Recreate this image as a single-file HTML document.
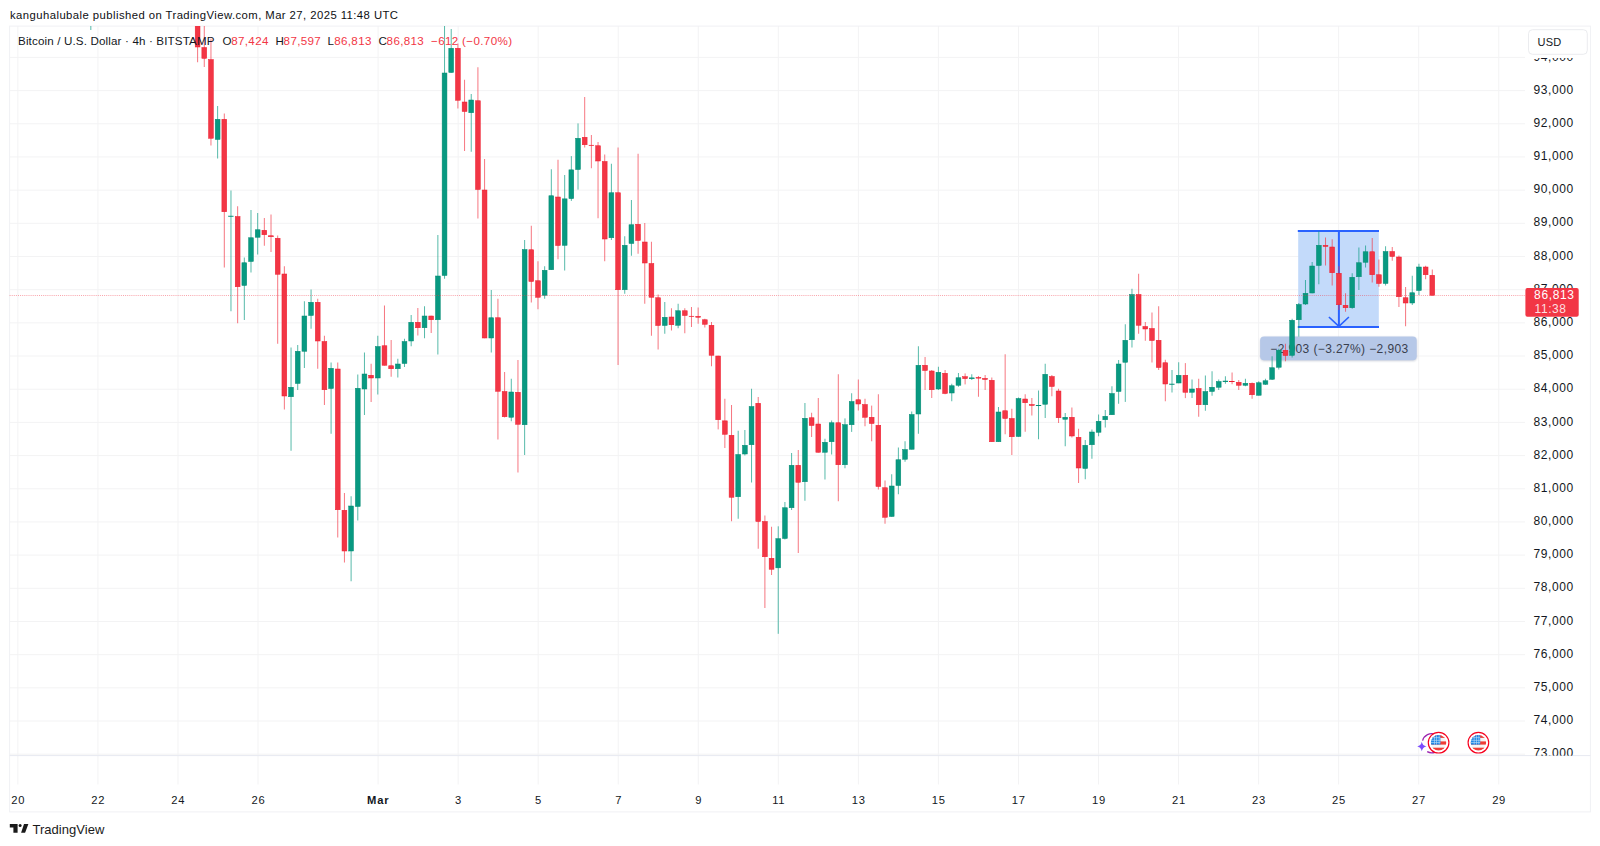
<!DOCTYPE html>
<html lang="en"><head><meta charset="utf-8"><title>BTCUSD 4h - TradingView</title>
<style>html,body{margin:0;padding:0;background:#fff}body{width:1600px;height:846px;overflow:hidden;position:relative;font-family:"Liberation Sans", Arial, sans-serif}svg{position:absolute;left:0;top:0;display:block}text{font-family:"Liberation Sans", Arial, sans-serif}</style>
</head><body>
<svg width="1600" height="846" viewBox="0 0 1600 846">
<rect x="0" y="0" width="1600" height="846" fill="#ffffff"/>
<g stroke="#F3F3F4" stroke-width="1" fill="none">
<line x1="9.6" y1="57.42" x2="1525.0" y2="57.42"/>
<line x1="9.6" y1="90.60" x2="1525.0" y2="90.60"/>
<line x1="9.6" y1="123.78" x2="1525.0" y2="123.78"/>
<line x1="9.6" y1="156.96" x2="1525.0" y2="156.96"/>
<line x1="9.6" y1="190.14" x2="1525.0" y2="190.14"/>
<line x1="9.6" y1="223.32" x2="1525.0" y2="223.32"/>
<line x1="9.6" y1="256.50" x2="1525.0" y2="256.50"/>
<line x1="9.6" y1="289.68" x2="1525.0" y2="289.68"/>
<line x1="9.6" y1="322.86" x2="1525.0" y2="322.86"/>
<line x1="9.6" y1="356.04" x2="1525.0" y2="356.04"/>
<line x1="9.6" y1="389.22" x2="1525.0" y2="389.22"/>
<line x1="9.6" y1="422.40" x2="1525.0" y2="422.40"/>
<line x1="9.6" y1="455.58" x2="1525.0" y2="455.58"/>
<line x1="9.6" y1="488.76" x2="1525.0" y2="488.76"/>
<line x1="9.6" y1="521.94" x2="1525.0" y2="521.94"/>
<line x1="9.6" y1="555.12" x2="1525.0" y2="555.12"/>
<line x1="9.6" y1="588.30" x2="1525.0" y2="588.30"/>
<line x1="9.6" y1="621.48" x2="1525.0" y2="621.48"/>
<line x1="9.6" y1="654.66" x2="1525.0" y2="654.66"/>
<line x1="9.6" y1="687.84" x2="1525.0" y2="687.84"/>
<line x1="9.6" y1="721.02" x2="1525.0" y2="721.02"/>
<line x1="9.6" y1="754.20" x2="1525.0" y2="754.20"/>
<line x1="17.89" y1="26.1" x2="17.89" y2="784.5"/>
<line x1="97.94" y1="26.1" x2="97.94" y2="784.5"/>
<line x1="177.99" y1="26.1" x2="177.99" y2="784.5"/>
<line x1="258.03" y1="26.1" x2="258.03" y2="784.5"/>
<line x1="378.10" y1="26.1" x2="378.10" y2="784.5"/>
<line x1="458.15" y1="26.1" x2="458.15" y2="784.5"/>
<line x1="538.19" y1="26.1" x2="538.19" y2="784.5"/>
<line x1="618.24" y1="26.1" x2="618.24" y2="784.5"/>
<line x1="698.28" y1="26.1" x2="698.28" y2="784.5"/>
<line x1="778.33" y1="26.1" x2="778.33" y2="784.5"/>
<line x1="858.38" y1="26.1" x2="858.38" y2="784.5"/>
<line x1="938.42" y1="26.1" x2="938.42" y2="784.5"/>
<line x1="1018.47" y1="26.1" x2="1018.47" y2="784.5"/>
<line x1="1098.51" y1="26.1" x2="1098.51" y2="784.5"/>
<line x1="1178.56" y1="26.1" x2="1178.56" y2="784.5"/>
<line x1="1258.61" y1="26.1" x2="1258.61" y2="784.5"/>
<line x1="1338.65" y1="26.1" x2="1338.65" y2="784.5"/>
<line x1="1418.70" y1="26.1" x2="1418.70" y2="784.5"/>
<line x1="1498.74" y1="26.1" x2="1498.74" y2="784.5"/>
</g>
<g stroke="#F0F1F4" stroke-width="1" fill="none">
<rect x="9.6" y="26.1" width="1580.8" height="785.8"/>
<line x1="9.6" y1="755.6" x2="1590.4" y2="755.6" stroke="#E7E9F1"/>
</g>
<g id="measure">
<defs><filter id="sh" x="-10%" y="-30%" width="120%" height="160%"><feGaussianBlur stdDeviation="1.1"/></filter></defs>
<rect x="1298.2" y="231" width="80.6" height="96" fill="#C3DAFA"/>
<g stroke="#2962FF" stroke-width="2" fill="none">
<line x1="1297.8" y1="231" x2="1379" y2="231"/>
<line x1="1297.8" y1="327" x2="1379" y2="327"/>
<line x1="1338.9" y1="231" x2="1338.9" y2="326"/>
<polyline points="1328.9,317 1338.9,326.3 1348.9,317" stroke-width="1.6"/>
</g>
<rect x="1260.4" y="337.4" width="156.4" height="23.6" rx="4" fill="#8A93A8" fill-opacity="0.45" filter="url(#sh)"/>
<rect x="1260.1" y="336.4" width="156.6" height="23.8" rx="4" fill="#B6C8E8"/>
<text x="1270.3" y="352.7" font-size="12" fill="#3A3F4E" textLength="137.9" lengthAdjust="spacing">−2,903 (−3.27%) −2,903</text>
</g>
<g id="candles" clip-path="url(#paneclip)">
<defs><clipPath id="paneclip"><rect x="9.6" y="26.1" width="1515.4" height="729.5"/></clipPath></defs>
<g fill="#F23645" fill-opacity="0.68">
<rect x="197.10" y="20.00" width="1" height="42.25"/>
<rect x="203.77" y="20.00" width="1" height="47.00"/>
<rect x="210.45" y="38.70" width="1" height="106.80"/>
<rect x="223.80" y="113.50" width="1" height="154.00"/>
<rect x="237.14" y="206.25" width="1" height="117.00"/>
<rect x="263.84" y="218.00" width="1" height="27.75"/>
<rect x="270.51" y="214.50" width="1" height="37.50"/>
<rect x="277.19" y="235.50" width="1" height="108.25"/>
<rect x="283.86" y="266.25" width="1" height="143.25"/>
<rect x="317.23" y="298.75" width="1" height="70.00"/>
<rect x="323.91" y="335.75" width="1" height="69.25"/>
<rect x="337.25" y="362.50" width="1" height="175.00"/>
<rect x="343.93" y="493.00" width="1" height="69.50"/>
<rect x="370.62" y="363.75" width="1" height="38.25"/>
<rect x="383.97" y="305.50" width="1" height="60.00"/>
<rect x="390.65" y="340.00" width="1" height="36.75"/>
<rect x="417.34" y="308.00" width="1" height="27.50"/>
<rect x="430.69" y="315.75" width="1" height="17.25"/>
<rect x="457.39" y="43.50" width="1" height="65.00"/>
<rect x="464.06" y="79.75" width="1" height="71.25"/>
<rect x="477.41" y="67.25" width="1" height="151.25"/>
<rect x="484.08" y="159.00" width="1" height="179.25"/>
<rect x="497.43" y="298.75" width="1" height="140.75"/>
<rect x="504.10" y="372.00" width="1" height="45.50"/>
<rect x="517.45" y="360.00" width="1" height="112.50"/>
<rect x="530.80" y="225.75" width="1" height="76.75"/>
<rect x="537.47" y="261.25" width="1" height="48.00"/>
<rect x="557.50" y="159.75" width="1" height="99.50"/>
<rect x="584.19" y="97.00" width="1" height="50.50"/>
<rect x="590.87" y="135.00" width="1" height="33.25"/>
<rect x="597.54" y="142.00" width="1" height="76.25"/>
<rect x="604.21" y="154.50" width="1" height="106.75"/>
<rect x="617.56" y="147.50" width="1" height="217.50"/>
<rect x="637.58" y="153.75" width="1" height="100.00"/>
<rect x="644.26" y="223.00" width="1" height="80.75"/>
<rect x="650.93" y="241.75" width="1" height="94.00"/>
<rect x="657.61" y="294.50" width="1" height="55.00"/>
<rect x="670.95" y="308.25" width="1" height="22.25"/>
<rect x="684.30" y="308.25" width="1" height="25.00"/>
<rect x="690.98" y="307.00" width="1" height="20.00"/>
<rect x="697.65" y="307.50" width="1" height="16.25"/>
<rect x="704.32" y="318.75" width="1" height="8.75"/>
<rect x="711.00" y="322.00" width="1" height="44.25"/>
<rect x="717.67" y="355.75" width="1" height="73.65"/>
<rect x="724.35" y="398.75" width="1" height="49.25"/>
<rect x="731.02" y="405.00" width="1" height="116.25"/>
<rect x="757.72" y="397.00" width="1" height="151.75"/>
<rect x="764.39" y="515.50" width="1" height="92.50"/>
<rect x="771.06" y="526.75" width="1" height="48.25"/>
<rect x="797.76" y="450.00" width="1" height="103.00"/>
<rect x="811.11" y="412.75" width="1" height="24.25"/>
<rect x="817.78" y="398.00" width="1" height="54.50"/>
<rect x="837.80" y="374.25" width="1" height="127.00"/>
<rect x="857.83" y="379.50" width="1" height="31.00"/>
<rect x="864.50" y="398.75" width="1" height="27.50"/>
<rect x="871.17" y="405.60" width="1" height="35.65"/>
<rect x="877.85" y="394.25" width="1" height="95.25"/>
<rect x="884.52" y="480.50" width="1" height="43.25"/>
<rect x="924.57" y="357.00" width="1" height="33.00"/>
<rect x="931.24" y="370.00" width="1" height="28.00"/>
<rect x="944.59" y="370.00" width="1" height="24.25"/>
<rect x="964.61" y="373.40" width="1" height="11.00"/>
<rect x="977.96" y="376.00" width="1" height="20.75"/>
<rect x="984.63" y="375.00" width="1" height="15.00"/>
<rect x="991.31" y="377.50" width="1" height="64.50"/>
<rect x="1004.65" y="354.25" width="1" height="80.00"/>
<rect x="1011.33" y="408.75" width="1" height="46.25"/>
<rect x="1024.68" y="394.25" width="1" height="37.50"/>
<rect x="1031.35" y="398.00" width="1" height="17.50"/>
<rect x="1051.37" y="375.00" width="1" height="21.25"/>
<rect x="1058.05" y="388.75" width="1" height="34.25"/>
<rect x="1071.39" y="407.50" width="1" height="30.00"/>
<rect x="1078.07" y="428.75" width="1" height="54.25"/>
<rect x="1138.13" y="273.75" width="1" height="60.00"/>
<rect x="1144.81" y="322.00" width="1" height="18.75"/>
<rect x="1151.48" y="312.50" width="1" height="50.00"/>
<rect x="1158.16" y="306.25" width="1" height="63.75"/>
<rect x="1164.83" y="359.75" width="1" height="41.50"/>
<rect x="1184.85" y="363.10" width="1" height="35.00"/>
<rect x="1198.20" y="378.75" width="1" height="38.00"/>
<rect x="1231.57" y="372.50" width="1" height="11.75"/>
<rect x="1238.24" y="380.00" width="1" height="10.00"/>
<rect x="1251.59" y="382.50" width="1" height="16.25"/>
<rect x="1284.96" y="343.75" width="1" height="17.50"/>
<rect x="1325.01" y="237.50" width="1" height="28.00"/>
<rect x="1331.68" y="239.25" width="1" height="46.25"/>
<rect x="1338.35" y="266.25" width="1" height="43.75"/>
<rect x="1345.03" y="293.25" width="1" height="18.50"/>
<rect x="1371.72" y="238.00" width="1" height="44.50"/>
<rect x="1378.40" y="259.50" width="1" height="27.25"/>
<rect x="1391.75" y="247.00" width="1" height="13.75"/>
<rect x="1398.42" y="255.50" width="1" height="51.50"/>
<rect x="1405.09" y="287.00" width="1" height="39.25"/>
<rect x="1425.12" y="265.75" width="1" height="13.50"/>
<rect x="1431.79" y="269.50" width="1" height="26.00"/>
</g>
<g fill="#089981" fill-opacity="0.68">
<rect x="90.32" y="20.00" width="1" height="10.00"/>
<rect x="217.12" y="106.00" width="1" height="52.50"/>
<rect x="230.47" y="190.50" width="1" height="120.75"/>
<rect x="243.82" y="257.50" width="1" height="62.50"/>
<rect x="250.49" y="210.00" width="1" height="62.50"/>
<rect x="257.17" y="213.00" width="1" height="41.50"/>
<rect x="290.54" y="347.50" width="1" height="103.25"/>
<rect x="297.21" y="345.00" width="1" height="45.00"/>
<rect x="303.88" y="301.25" width="1" height="66.75"/>
<rect x="310.56" y="289.50" width="1" height="39.25"/>
<rect x="330.58" y="362.50" width="1" height="71.25"/>
<rect x="350.60" y="496.25" width="1" height="85.00"/>
<rect x="357.28" y="374.50" width="1" height="146.00"/>
<rect x="363.95" y="352.50" width="1" height="62.50"/>
<rect x="377.30" y="335.75" width="1" height="58.75"/>
<rect x="397.32" y="358.75" width="1" height="18.75"/>
<rect x="403.99" y="338.75" width="1" height="28.25"/>
<rect x="410.67" y="315.00" width="1" height="31.25"/>
<rect x="424.02" y="306.25" width="1" height="32.00"/>
<rect x="437.36" y="235.00" width="1" height="119.50"/>
<rect x="444.04" y="20.00" width="1" height="258.75"/>
<rect x="450.71" y="29.00" width="1" height="43.75"/>
<rect x="470.73" y="94.00" width="1" height="57.75"/>
<rect x="490.76" y="290.00" width="1" height="62.50"/>
<rect x="510.78" y="378.75" width="1" height="42.50"/>
<rect x="524.13" y="240.00" width="1" height="215.00"/>
<rect x="544.15" y="266.25" width="1" height="32.50"/>
<rect x="550.82" y="169.25" width="1" height="100.75"/>
<rect x="564.17" y="175.00" width="1" height="95.50"/>
<rect x="570.84" y="156.10" width="1" height="44.80"/>
<rect x="577.52" y="123.40" width="1" height="66.20"/>
<rect x="610.89" y="163.75" width="1" height="76.25"/>
<rect x="624.24" y="236.25" width="1" height="57.50"/>
<rect x="630.91" y="200.00" width="1" height="55.75"/>
<rect x="664.28" y="302.00" width="1" height="31.75"/>
<rect x="677.63" y="303.75" width="1" height="24.50"/>
<rect x="737.69" y="430.75" width="1" height="88.00"/>
<rect x="744.37" y="430.00" width="1" height="25.50"/>
<rect x="751.04" y="388.75" width="1" height="93.75"/>
<rect x="777.74" y="526.30" width="1" height="107.50"/>
<rect x="784.41" y="502.00" width="1" height="37.50"/>
<rect x="791.09" y="453.00" width="1" height="57.00"/>
<rect x="804.43" y="403.00" width="1" height="97.75"/>
<rect x="824.46" y="438.75" width="1" height="40.75"/>
<rect x="831.13" y="420.50" width="1" height="34.00"/>
<rect x="844.48" y="418.40" width="1" height="49.85"/>
<rect x="851.15" y="393.25" width="1" height="38.65"/>
<rect x="891.20" y="474.25" width="1" height="42.50"/>
<rect x="897.87" y="447.50" width="1" height="46.75"/>
<rect x="904.54" y="441.25" width="1" height="20.50"/>
<rect x="911.22" y="411.50" width="1" height="38.00"/>
<rect x="917.89" y="346.25" width="1" height="87.50"/>
<rect x="937.91" y="366.75" width="1" height="23.25"/>
<rect x="951.26" y="383.75" width="1" height="17.50"/>
<rect x="957.94" y="373.00" width="1" height="13.75"/>
<rect x="971.28" y="374.25" width="1" height="5.75"/>
<rect x="997.98" y="407.00" width="1" height="35.00"/>
<rect x="1018.00" y="397.50" width="1" height="39.25"/>
<rect x="1038.02" y="390.50" width="1" height="48.75"/>
<rect x="1044.70" y="363.75" width="1" height="54.25"/>
<rect x="1064.72" y="413.00" width="1" height="33.25"/>
<rect x="1084.74" y="440.00" width="1" height="39.25"/>
<rect x="1091.42" y="429.50" width="1" height="29.25"/>
<rect x="1098.09" y="414.50" width="1" height="21.75"/>
<rect x="1104.76" y="410.00" width="1" height="17.50"/>
<rect x="1111.44" y="386.25" width="1" height="28.75"/>
<rect x="1118.11" y="360.00" width="1" height="43.75"/>
<rect x="1124.79" y="324.25" width="1" height="77.65"/>
<rect x="1131.46" y="288.75" width="1" height="58.75"/>
<rect x="1171.50" y="370.00" width="1" height="22.50"/>
<rect x="1178.18" y="362.25" width="1" height="21.00"/>
<rect x="1191.53" y="379.50" width="1" height="18.50"/>
<rect x="1204.87" y="375.50" width="1" height="35.25"/>
<rect x="1211.55" y="371.25" width="1" height="24.50"/>
<rect x="1218.22" y="379.50" width="1" height="10.50"/>
<rect x="1224.90" y="376.25" width="1" height="7.50"/>
<rect x="1244.92" y="378.75" width="1" height="7.50"/>
<rect x="1258.27" y="381.25" width="1" height="14.25"/>
<rect x="1264.94" y="378.75" width="1" height="6.25"/>
<rect x="1271.61" y="356.25" width="1" height="23.75"/>
<rect x="1278.29" y="348.75" width="1" height="20.75"/>
<rect x="1291.64" y="318.75" width="1" height="38.75"/>
<rect x="1298.31" y="303.00" width="1" height="33.60"/>
<rect x="1304.98" y="280.00" width="1" height="25.00"/>
<rect x="1311.66" y="262.00" width="1" height="31.25"/>
<rect x="1318.33" y="231.25" width="1" height="53.00"/>
<rect x="1351.70" y="273.25" width="1" height="35.50"/>
<rect x="1358.38" y="247.50" width="1" height="42.50"/>
<rect x="1365.05" y="245.50" width="1" height="22.00"/>
<rect x="1385.07" y="246.25" width="1" height="39.25"/>
<rect x="1411.77" y="275.75" width="1" height="29.25"/>
<rect x="1418.44" y="263.75" width="1" height="31.25"/>
</g>
<g fill="#F23645" stroke="#EE1B2D" stroke-width="0.5">
<rect x="195.20" y="20.25" width="4.80" height="26.75"/>
<rect x="201.87" y="47.50" width="4.80" height="10.85"/>
<rect x="208.55" y="59.55" width="4.80" height="78.70"/>
<rect x="221.90" y="119.25" width="4.80" height="92.50"/>
<rect x="235.24" y="216.50" width="4.80" height="70.25"/>
<rect x="261.94" y="230.25" width="4.80" height="4.50"/>
<rect x="268.61" y="235.75" width="4.80" height="1.00"/>
<rect x="275.29" y="238.25" width="4.80" height="36.00"/>
<rect x="281.96" y="274.00" width="4.80" height="122.00"/>
<rect x="315.33" y="302.25" width="4.80" height="38.75"/>
<rect x="322.01" y="341.50" width="4.80" height="48.25"/>
<rect x="335.35" y="369.00" width="4.80" height="140.75"/>
<rect x="342.03" y="510.25" width="4.80" height="40.75"/>
<rect x="368.72" y="375.25" width="4.80" height="2.75"/>
<rect x="382.07" y="345.75" width="4.80" height="19.50"/>
<rect x="388.75" y="365.75" width="4.80" height="3.00"/>
<rect x="415.44" y="322.25" width="4.80" height="5.50"/>
<rect x="428.79" y="316.00" width="4.80" height="3.75"/>
<rect x="455.49" y="48.25" width="4.80" height="52.00"/>
<rect x="462.16" y="102.00" width="4.80" height="9.50"/>
<rect x="475.51" y="100.75" width="4.80" height="88.75"/>
<rect x="482.18" y="190.00" width="4.80" height="148.00"/>
<rect x="495.53" y="317.75" width="4.80" height="73.50"/>
<rect x="502.20" y="391.50" width="4.80" height="25.25"/>
<rect x="515.55" y="392.25" width="4.80" height="32.00"/>
<rect x="528.90" y="249.75" width="4.80" height="31.75"/>
<rect x="535.57" y="280.75" width="4.80" height="16.50"/>
<rect x="555.60" y="197.00" width="4.80" height="48.50"/>
<rect x="582.29" y="137.25" width="4.80" height="7.50"/>
<rect x="588.97" y="145.20" width="4.80" height="0.50"/>
<rect x="595.64" y="145.75" width="4.80" height="15.25"/>
<rect x="602.31" y="161.50" width="4.80" height="77.50"/>
<rect x="615.66" y="192.75" width="4.80" height="97.00"/>
<rect x="635.68" y="224.25" width="4.80" height="16.25"/>
<rect x="642.36" y="242.00" width="4.80" height="21.00"/>
<rect x="649.03" y="263.50" width="4.80" height="33.75"/>
<rect x="655.71" y="297.75" width="4.80" height="27.75"/>
<rect x="669.05" y="317.00" width="4.80" height="7.75"/>
<rect x="682.40" y="310.75" width="4.80" height="4.75"/>
<rect x="689.08" y="316.20" width="4.80" height="0.50"/>
<rect x="695.75" y="316.25" width="4.80" height="1.00"/>
<rect x="702.42" y="319.75" width="4.80" height="4.50"/>
<rect x="709.10" y="325.25" width="4.80" height="30.00"/>
<rect x="715.77" y="356.00" width="4.80" height="63.75"/>
<rect x="722.45" y="420.85" width="4.80" height="13.40"/>
<rect x="729.12" y="435.25" width="4.80" height="62.00"/>
<rect x="755.82" y="403.25" width="4.80" height="118.25"/>
<rect x="762.49" y="521.50" width="4.80" height="35.25"/>
<rect x="769.16" y="558.25" width="4.80" height="11.00"/>
<rect x="795.86" y="465.25" width="4.80" height="17.00"/>
<rect x="809.21" y="417.75" width="4.80" height="7.75"/>
<rect x="815.88" y="424.00" width="4.80" height="28.25"/>
<rect x="835.90" y="422.75" width="4.80" height="42.00"/>
<rect x="855.93" y="399.75" width="4.80" height="4.25"/>
<rect x="862.60" y="404.50" width="4.80" height="12.75"/>
<rect x="869.27" y="417.25" width="4.80" height="6.25"/>
<rect x="875.95" y="425.25" width="4.80" height="61.25"/>
<rect x="882.62" y="487.75" width="4.80" height="29.50"/>
<rect x="922.67" y="365.25" width="4.80" height="5.25"/>
<rect x="929.34" y="371.00" width="4.80" height="18.75"/>
<rect x="942.69" y="373.25" width="4.80" height="20.25"/>
<rect x="962.71" y="376.65" width="4.80" height="2.00"/>
<rect x="976.06" y="377.50" width="4.80" height="0.65"/>
<rect x="982.73" y="378.35" width="4.80" height="1.15"/>
<rect x="989.41" y="380.25" width="4.80" height="61.50"/>
<rect x="1002.75" y="410.75" width="4.80" height="7.75"/>
<rect x="1009.43" y="418.50" width="4.80" height="18.25"/>
<rect x="1022.78" y="399.00" width="4.80" height="3.75"/>
<rect x="1029.45" y="404.50" width="4.80" height="1.00"/>
<rect x="1049.47" y="376.50" width="4.80" height="10.00"/>
<rect x="1056.15" y="391.00" width="4.80" height="26.75"/>
<rect x="1069.49" y="417.25" width="4.80" height="18.75"/>
<rect x="1076.17" y="437.25" width="4.80" height="30.75"/>
<rect x="1136.23" y="294.50" width="4.80" height="30.75"/>
<rect x="1142.91" y="326.50" width="4.80" height="2.50"/>
<rect x="1149.58" y="328.50" width="4.80" height="12.00"/>
<rect x="1156.26" y="340.25" width="4.80" height="27.25"/>
<rect x="1162.93" y="362.75" width="4.80" height="21.25"/>
<rect x="1182.95" y="375.25" width="4.80" height="17.00"/>
<rect x="1196.30" y="388.50" width="4.80" height="16.25"/>
<rect x="1229.67" y="381.25" width="4.80" height="0.50"/>
<rect x="1236.34" y="382.25" width="4.80" height="3.00"/>
<rect x="1249.69" y="383.25" width="4.80" height="11.50"/>
<rect x="1283.06" y="350.25" width="4.80" height="5.25"/>
<rect x="1323.11" y="245.25" width="4.80" height="1.25"/>
<rect x="1329.78" y="247.00" width="4.80" height="25.75"/>
<rect x="1336.45" y="273.25" width="4.80" height="31.50"/>
<rect x="1343.13" y="305.25" width="4.80" height="2.50"/>
<rect x="1369.82" y="251.75" width="4.80" height="23.00"/>
<rect x="1376.50" y="274.75" width="4.80" height="8.75"/>
<rect x="1389.85" y="251.50" width="4.80" height="5.00"/>
<rect x="1396.52" y="257.00" width="4.80" height="39.75"/>
<rect x="1403.19" y="297.75" width="4.80" height="5.25"/>
<rect x="1423.22" y="267.00" width="4.80" height="7.75"/>
<rect x="1429.89" y="275.25" width="4.80" height="20.00"/>
</g>
<g fill="#089981" stroke="#038A72" stroke-width="0.5">
<rect x="215.22" y="119.25" width="4.80" height="20.25"/>
<rect x="228.57" y="216.05" width="4.80" height="0.50"/>
<rect x="241.92" y="262.75" width="4.80" height="22.75"/>
<rect x="248.59" y="237.75" width="4.80" height="23.75"/>
<rect x="255.27" y="229.75" width="4.80" height="7.50"/>
<rect x="288.64" y="387.25" width="4.80" height="9.50"/>
<rect x="295.31" y="351.25" width="4.80" height="32.25"/>
<rect x="301.98" y="316.00" width="4.80" height="35.25"/>
<rect x="308.66" y="302.25" width="4.80" height="13.25"/>
<rect x="328.68" y="368.25" width="4.80" height="20.25"/>
<rect x="348.70" y="506.00" width="4.80" height="45.00"/>
<rect x="355.38" y="388.25" width="4.80" height="118.25"/>
<rect x="362.05" y="374.00" width="4.80" height="15.00"/>
<rect x="375.40" y="346.50" width="4.80" height="31.50"/>
<rect x="395.42" y="364.00" width="4.80" height="4.75"/>
<rect x="402.09" y="341.50" width="4.80" height="22.00"/>
<rect x="408.77" y="322.25" width="4.80" height="18.75"/>
<rect x="422.12" y="316.00" width="4.80" height="11.75"/>
<rect x="435.46" y="276.00" width="4.80" height="43.75"/>
<rect x="442.14" y="73.00" width="4.80" height="202.50"/>
<rect x="448.81" y="48.25" width="4.80" height="24.25"/>
<rect x="468.83" y="100.00" width="4.80" height="12.75"/>
<rect x="488.86" y="317.75" width="4.80" height="20.25"/>
<rect x="508.88" y="392.00" width="4.80" height="25.25"/>
<rect x="522.23" y="249.50" width="4.80" height="175.25"/>
<rect x="542.25" y="270.25" width="4.80" height="25.00"/>
<rect x="548.92" y="195.75" width="4.80" height="74.00"/>
<rect x="562.27" y="198.85" width="4.80" height="46.50"/>
<rect x="568.94" y="169.85" width="4.80" height="28.80"/>
<rect x="575.62" y="138.25" width="4.80" height="31.30"/>
<rect x="608.99" y="192.75" width="4.80" height="45.00"/>
<rect x="622.34" y="245.25" width="4.80" height="44.50"/>
<rect x="629.01" y="224.75" width="4.80" height="18.75"/>
<rect x="662.38" y="317.25" width="4.80" height="8.25"/>
<rect x="675.73" y="310.75" width="4.80" height="14.50"/>
<rect x="735.79" y="454.50" width="4.80" height="42.25"/>
<rect x="742.47" y="445.25" width="4.80" height="8.75"/>
<rect x="749.14" y="406.50" width="4.80" height="38.25"/>
<rect x="775.84" y="538.65" width="4.80" height="29.20"/>
<rect x="782.51" y="507.75" width="4.80" height="30.75"/>
<rect x="789.19" y="465.25" width="4.80" height="42.50"/>
<rect x="802.53" y="418.25" width="4.80" height="63.50"/>
<rect x="822.56" y="442.25" width="4.80" height="10.00"/>
<rect x="829.23" y="422.75" width="4.80" height="19.00"/>
<rect x="842.58" y="424.65" width="4.80" height="40.10"/>
<rect x="849.25" y="401.50" width="4.80" height="23.25"/>
<rect x="889.30" y="486.00" width="4.80" height="30.50"/>
<rect x="895.97" y="459.75" width="4.80" height="25.75"/>
<rect x="902.64" y="449.50" width="4.80" height="9.75"/>
<rect x="909.32" y="414.50" width="4.80" height="34.75"/>
<rect x="915.99" y="365.25" width="4.80" height="48.75"/>
<rect x="936.01" y="372.25" width="4.80" height="16.75"/>
<rect x="949.36" y="385.75" width="4.80" height="7.25"/>
<rect x="956.04" y="377.75" width="4.80" height="7.50"/>
<rect x="969.38" y="377.85" width="4.80" height="0.90"/>
<rect x="996.08" y="412.00" width="4.80" height="29.75"/>
<rect x="1016.10" y="398.50" width="4.80" height="38.00"/>
<rect x="1036.12" y="405.25" width="4.80" height="0.50"/>
<rect x="1042.80" y="374.25" width="4.80" height="30.00"/>
<rect x="1062.82" y="417.25" width="4.80" height="2.00"/>
<rect x="1082.84" y="445.25" width="4.80" height="23.25"/>
<rect x="1089.52" y="432.00" width="4.80" height="12.75"/>
<rect x="1096.19" y="421.25" width="4.80" height="11.00"/>
<rect x="1102.86" y="416.25" width="4.80" height="3.50"/>
<rect x="1109.54" y="393.50" width="4.80" height="21.25"/>
<rect x="1116.21" y="364.00" width="4.80" height="27.50"/>
<rect x="1122.89" y="340.25" width="4.80" height="22.00"/>
<rect x="1129.56" y="294.50" width="4.80" height="45.25"/>
<rect x="1169.60" y="384.00" width="4.80" height="0.50"/>
<rect x="1176.28" y="375.25" width="4.80" height="7.75"/>
<rect x="1189.63" y="389.00" width="4.80" height="3.25"/>
<rect x="1202.97" y="391.50" width="4.80" height="13.25"/>
<rect x="1209.65" y="387.25" width="4.80" height="4.25"/>
<rect x="1216.32" y="381.50" width="4.80" height="5.75"/>
<rect x="1223.00" y="381.00" width="4.80" height="0.75"/>
<rect x="1243.02" y="383.25" width="4.80" height="2.00"/>
<rect x="1256.37" y="382.75" width="4.80" height="12.50"/>
<rect x="1263.04" y="380.75" width="4.80" height="3.50"/>
<rect x="1269.71" y="367.75" width="4.80" height="11.50"/>
<rect x="1276.39" y="350.25" width="4.80" height="17.00"/>
<rect x="1289.74" y="320.25" width="4.80" height="35.10"/>
<rect x="1296.41" y="304.50" width="4.80" height="15.25"/>
<rect x="1303.08" y="293.25" width="4.80" height="10.75"/>
<rect x="1309.76" y="266.00" width="4.80" height="27.00"/>
<rect x="1316.43" y="245.25" width="4.80" height="20.25"/>
<rect x="1349.80" y="277.25" width="4.80" height="30.50"/>
<rect x="1356.48" y="262.75" width="4.80" height="14.00"/>
<rect x="1363.15" y="251.75" width="4.80" height="10.50"/>
<rect x="1383.17" y="251.50" width="4.80" height="32.00"/>
<rect x="1409.87" y="292.75" width="4.80" height="10.25"/>
<rect x="1416.54" y="267.00" width="4.80" height="23.50"/>
</g>
</g>
<line x1="9.6" y1="295.5" x2="1525.0" y2="295.5" stroke="#F23645" stroke-width="1" stroke-dasharray="1 1.1" stroke-opacity="0.45"/>
<text x="10" y="19.4" font-size="11.3" fill="#0E0F13" textLength="388" lengthAdjust="spacing">kanguhalubale published on TradingView.com, Mar 27, 2025 11:48 UTC</text>
<g font-size="11.6">
<text x="18" y="45.3" fill="#131722" textLength="196.5" lengthAdjust="spacing">Bitcoin / U.S. Dollar · 4h · BITSTAMP</text>
<text x="222.4" y="45.3" fill="#131722">O</text>
<text x="231.2" y="45.3" fill="#F23645" textLength="37.2" lengthAdjust="spacing">87,424</text>
<text x="275.4" y="45.3" fill="#131722">H</text>
<text x="283.6" y="45.3" fill="#F23645" textLength="37.2" lengthAdjust="spacing">87,597</text>
<text x="327.6" y="45.3" fill="#131722">L</text>
<text x="334.2" y="45.3" fill="#F23645" textLength="37.2" lengthAdjust="spacing">86,813</text>
<text x="378.4" y="45.3" fill="#131722">C</text>
<text x="386.6" y="45.3" fill="#F23645" textLength="37.2" lengthAdjust="spacing">86,813</text>
<text x="431" y="45.3" fill="#F23645" textLength="81" lengthAdjust="spacing">−612 (−0.70%)</text>
</g>
<g font-size="12" fill="#131722">
<text x="1533.5" y="60.57" textLength="39.6" lengthAdjust="spacing" clip-path="url(#axclip)">94,000</text>
<text x="1533.5" y="93.75" textLength="39.6" lengthAdjust="spacing" clip-path="url(#axclip)">93,000</text>
<text x="1533.5" y="126.93" textLength="39.6" lengthAdjust="spacing" clip-path="url(#axclip)">92,000</text>
<text x="1533.5" y="160.11" textLength="39.6" lengthAdjust="spacing" clip-path="url(#axclip)">91,000</text>
<text x="1533.5" y="193.29" textLength="39.6" lengthAdjust="spacing" clip-path="url(#axclip)">90,000</text>
<text x="1533.5" y="226.47" textLength="39.6" lengthAdjust="spacing" clip-path="url(#axclip)">89,000</text>
<text x="1533.5" y="259.65" textLength="39.6" lengthAdjust="spacing" clip-path="url(#axclip)">88,000</text>
<text x="1533.5" y="292.83" textLength="39.6" lengthAdjust="spacing" clip-path="url(#axclip)">87,000</text>
<text x="1533.5" y="326.01" textLength="39.6" lengthAdjust="spacing" clip-path="url(#axclip)">86,000</text>
<text x="1533.5" y="359.19" textLength="39.6" lengthAdjust="spacing" clip-path="url(#axclip)">85,000</text>
<text x="1533.5" y="392.37" textLength="39.6" lengthAdjust="spacing" clip-path="url(#axclip)">84,000</text>
<text x="1533.5" y="425.55" textLength="39.6" lengthAdjust="spacing" clip-path="url(#axclip)">83,000</text>
<text x="1533.5" y="458.73" textLength="39.6" lengthAdjust="spacing" clip-path="url(#axclip)">82,000</text>
<text x="1533.5" y="491.91" textLength="39.6" lengthAdjust="spacing" clip-path="url(#axclip)">81,000</text>
<text x="1533.5" y="525.09" textLength="39.6" lengthAdjust="spacing" clip-path="url(#axclip)">80,000</text>
<text x="1533.5" y="558.27" textLength="39.6" lengthAdjust="spacing" clip-path="url(#axclip)">79,000</text>
<text x="1533.5" y="591.45" textLength="39.6" lengthAdjust="spacing" clip-path="url(#axclip)">78,000</text>
<text x="1533.5" y="624.63" textLength="39.6" lengthAdjust="spacing" clip-path="url(#axclip)">77,000</text>
<text x="1533.5" y="657.81" textLength="39.6" lengthAdjust="spacing" clip-path="url(#axclip)">76,000</text>
<text x="1533.5" y="690.99" textLength="39.6" lengthAdjust="spacing" clip-path="url(#axclip)">75,000</text>
<text x="1533.5" y="724.17" textLength="39.6" lengthAdjust="spacing" clip-path="url(#axclip)">74,000</text>
<text x="1533.5" y="757.35" textLength="39.6" lengthAdjust="spacing" clip-path="url(#axclip)">73,000</text>
<defs><clipPath id="axclip"><rect x="1526" y="58" width="64" height="697.7"/></clipPath></defs>
</g>
<rect x="1526" y="27" width="64" height="30.5" fill="#ffffff"/>
<rect x="1528.5" y="29.7" width="58.8" height="24.6" rx="4" fill="#ffffff" stroke="#EBECEF" stroke-width="1"/>
<text x="1537.5" y="45.8" font-size="11" fill="#131722" textLength="23.8" lengthAdjust="spacing">USD</text>
<rect x="1525.4" y="287.9" width="53.3" height="28.9" rx="2" fill="#F23645"/>
<text x="1534.1" y="299.3" font-size="12" fill="#ffffff" textLength="39.8" lengthAdjust="spacing">86,813</text>
<text x="1534.6" y="312.9" font-size="12" fill="#ffffff" fill-opacity="0.85" textLength="31.4" lengthAdjust="spacing">11:38</text>
<g font-size="11.2" fill="#131722" text-anchor="middle">
<text x="18.2" y="803.5" letter-spacing="0.7">20</text>
<text x="98.3" y="803.5" letter-spacing="0.7">22</text>
<text x="178.3" y="803.5" letter-spacing="0.7">24</text>
<text x="258.4" y="803.5" letter-spacing="0.7">26</text>
<text x="377.8" y="803.5" font-weight="bold" textLength="21.4" lengthAdjust="spacing">Mar</text>
<text x="458.5" y="803.5" letter-spacing="0.7">3</text>
<text x="538.5" y="803.5" letter-spacing="0.7">5</text>
<text x="618.6" y="803.5" letter-spacing="0.7">7</text>
<text x="698.6" y="803.5" letter-spacing="0.7">9</text>
<text x="778.7" y="803.5" letter-spacing="0.7">11</text>
<text x="858.7" y="803.5" letter-spacing="0.7">13</text>
<text x="938.8" y="803.5" letter-spacing="0.7">15</text>
<text x="1018.8" y="803.5" letter-spacing="0.7">17</text>
<text x="1098.9" y="803.5" letter-spacing="0.7">19</text>
<text x="1178.9" y="803.5" letter-spacing="0.7">21</text>
<text x="1259.0" y="803.5" letter-spacing="0.7">23</text>
<text x="1339.0" y="803.5" letter-spacing="0.7">25</text>
<text x="1419.0" y="803.5" letter-spacing="0.7">27</text>
<text x="1499.1" y="803.5" letter-spacing="0.7">29</text>
</g>
<g id="events">
<path d="M 1422.6 740.6 A 9.6 9.6 0 1 1 1427.2 751.6" fill="none" stroke="#9C27B0" stroke-width="1.3"/>
<path d="M1421.8 741.8 Q1422.6 745.7 1426.4 746.5 Q1422.6 747.3 1421.8 751.2 Q1421 747.3 1417.2 746.5 Q1421 745.7 1421.8 741.8Z" fill="#7C4DFF"/>
<g transform="translate(1438.6,742.7)"><circle r="10.3" fill="#ffffff" stroke="#F7001E" stroke-width="1.15"/><clipPath id="fc1438"><circle r="7.7"/></clipPath><g clip-path="url(#fc1438)"><rect x="-8" y="-8" width="16" height="16" fill="#F5F5F5"/><rect x="-8" y="-8" width="16" height="3.2" fill="#EF3E36"/><rect x="-8" y="-1.3" width="16" height="3.2" fill="#EF3E36"/><rect x="-8" y="5" width="16" height="3.2" fill="#EF3E36"/><rect x="-8" y="-8" width="9.8" height="9.9" fill="#1E88E5"/><rect x="-4.6" y="-8" width="0.6" height="9.9" fill="#BFDDF7"/><rect x="-2.2" y="-8" width="0.6" height="9.9" fill="#BFDDF7"/><rect x="0.2" y="-8" width="0.6" height="9.9" fill="#BFDDF7"/><rect x="-8" y="-5.2" width="9.8" height="0.6" fill="#BFDDF7"/><rect x="-8" y="-2.8" width="9.8" height="0.6" fill="#BFDDF7"/><rect x="-8" y="-0.4" width="9.8" height="0.6" fill="#BFDDF7"/></g></g>
<g transform="translate(1478.4,742.7)"><circle r="10.3" fill="#ffffff" stroke="#F7001E" stroke-width="1.15"/><clipPath id="fc1478"><circle r="7.7"/></clipPath><g clip-path="url(#fc1478)"><rect x="-8" y="-8" width="16" height="16" fill="#F5F5F5"/><rect x="-8" y="-8" width="16" height="3.2" fill="#EF3E36"/><rect x="-8" y="-1.3" width="16" height="3.2" fill="#EF3E36"/><rect x="-8" y="5" width="16" height="3.2" fill="#EF3E36"/><rect x="-8" y="-8" width="9.8" height="9.9" fill="#1E88E5"/><rect x="-4.6" y="-8" width="0.6" height="9.9" fill="#BFDDF7"/><rect x="-2.2" y="-8" width="0.6" height="9.9" fill="#BFDDF7"/><rect x="0.2" y="-8" width="0.6" height="9.9" fill="#BFDDF7"/><rect x="-8" y="-5.2" width="9.8" height="0.6" fill="#BFDDF7"/><rect x="-8" y="-2.8" width="9.8" height="0.6" fill="#BFDDF7"/><rect x="-8" y="-0.4" width="9.8" height="0.6" fill="#BFDDF7"/></g></g>
</g>
<g fill="#1A1A1A">
<path d="M9.8 823.9H17.6V832.7H13.4V827.4H9.8Z"/>
<circle cx="20.1" cy="825.5" r="1.5"/>
<path d="M24 823.9H28.4L25.1 832.7H21.1Z"/>
<text x="32.4" y="833.9" font-size="13" textLength="72" lengthAdjust="spacing">TradingView</text>
</g>
</svg>
</body></html>
